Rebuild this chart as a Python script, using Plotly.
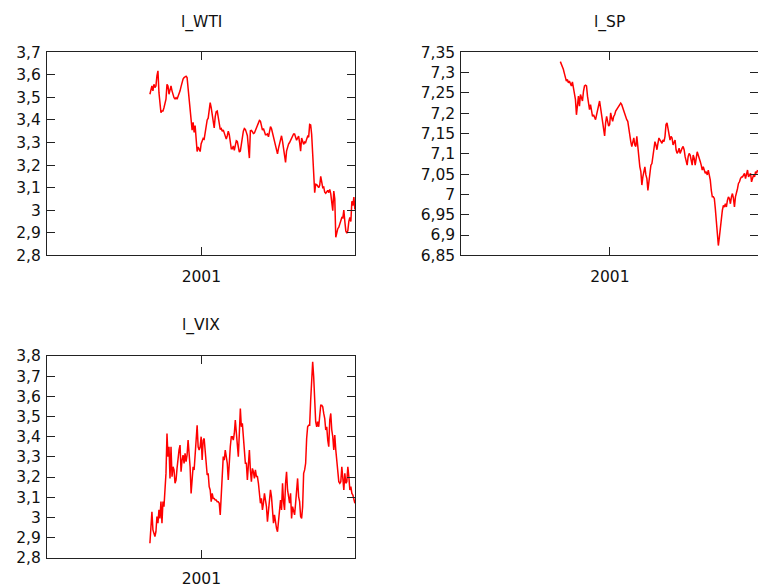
import pandas as pd
import plotly.graph_objects as go

# Log price series, daily, Sept 2000 - Dec 2001
l_WTI = [
    3.514, 3.536, 3.551, 3.529, 3.558, 3.544, 3.551, 3.596, 3.618, 3.521,
    3.462, 3.432, 3.440, 3.440, 3.454, 3.469, 3.492, 3.558, 3.551, 3.514,
    3.529, 3.551, 3.529, 3.509, 3.499, 3.494, 3.499, 3.492, 3.503, 3.516,
    3.529, 3.548, 3.566, 3.581, 3.588, 3.591, 3.594, 3.588, 3.544, 3.499,
    3.447, 3.395, 3.355, 3.390, 3.345, 3.375, 3.328, 3.260, 3.280, 3.265,
    3.260, 3.295, 3.310, 3.318, 3.315, 3.345, 3.375, 3.400, 3.408, 3.460,
    3.477, 3.455, 3.420, 3.375, 3.365, 3.415, 3.437, 3.440, 3.410, 3.370,
    3.358, 3.362, 3.350, 3.356, 3.345, 3.330, 3.315, 3.330, 3.350, 3.335,
    3.305, 3.272, 3.272, 3.285, 3.265, 3.290, 3.308, 3.305, 3.280, 3.258,
    3.262, 3.290, 3.330, 3.350, 3.362, 3.358, 3.345, 3.330, 3.280, 3.231,
    3.352, 3.354, 3.348, 3.340, 3.342, 3.352, 3.360, 3.372, 3.385, 3.398,
    3.395, 3.370, 3.355, 3.362, 3.348, 3.335, 3.335, 3.338, 3.325, 3.345,
    3.370, 3.362, 3.342, 3.322, 3.305, 3.280, 3.262, 3.250, 3.275, 3.298,
    3.320, 3.330, 3.305, 3.272, 3.240, 3.212, 3.262, 3.282, 3.293, 3.300,
    3.310, 3.323, 3.330, 3.338, 3.338, 3.322, 3.310, 3.320, 3.328, 3.300,
    3.262, 3.320, 3.305, 3.292, 3.302, 3.300, 3.315, 3.328, 3.324, 3.380,
    3.378, 3.335, 3.250, 3.150, 3.078, 3.115, 3.113, 3.107, 3.100, 3.110,
    3.150, 3.125, 3.100, 3.102, 3.080, 3.075, 3.082, 3.088, 3.078, 3.092,
    3.072, 3.025, 2.998, 3.085, 3.050, 2.880, 2.905, 2.918, 2.925, 2.938,
    2.953, 2.968, 2.966, 3.000, 2.950, 2.908, 2.898, 2.910, 2.950, 2.968,
    2.950, 3.040, 3.020, 3.058, 3.003,
]

l_SP = [
    7.327, 7.321, 7.312, 7.308, 7.298, 7.288, 7.279, 7.283, 7.275, 7.279,
    7.271, 7.267, 7.277, 7.263, 7.250, 7.234, 7.196, 7.225, 7.242, 7.217,
    7.246, 7.238, 7.230, 7.254, 7.267, 7.269, 7.267, 7.242, 7.217, 7.209,
    7.221, 7.205, 7.192, 7.196, 7.188, 7.184, 7.196, 7.205, 7.217, 7.230,
    7.213, 7.196, 7.180, 7.159, 7.144, 7.176, 7.192, 7.180, 7.168, 7.172,
    7.201, 7.188, 7.180, 7.192, 7.196, 7.205, 7.209, 7.213, 7.219, 7.223,
    7.225, 7.221, 7.213, 7.209, 7.196, 7.192, 7.184, 7.180, 7.159, 7.143,
    7.130, 7.118, 7.134, 7.139, 7.122, 7.118, 7.143, 7.110, 7.085, 7.068,
    7.056, 7.023, 7.043, 7.056, 7.068, 7.048, 7.039, 7.010, 7.031, 7.060,
    7.072, 7.076, 7.093, 7.110, 7.130, 7.122, 7.110, 7.126, 7.139, 7.134,
    7.130, 7.126, 7.134, 7.130, 7.143, 7.172, 7.176, 7.159, 7.151, 7.134,
    7.143, 7.139, 7.122, 7.130, 7.134, 7.110, 7.101, 7.105, 7.114, 7.101,
    7.110, 7.114, 7.118, 7.110, 7.093, 7.085, 7.072, 7.093, 7.101, 7.097,
    7.085, 7.072, 7.097, 7.089, 7.072, 7.093, 7.105, 7.097, 7.085, 7.081,
    7.072, 7.060, 7.068, 7.056, 7.052, 7.056, 7.048, 7.060, 7.048, 7.035,
    7.010, 6.994, 6.994, 6.990, 6.965, 6.936, 6.894, 6.874, 6.894, 6.919,
    6.944, 6.961, 6.973, 6.969, 6.977, 6.969, 6.985, 6.994, 6.990, 6.977,
    6.994, 7.002, 6.990, 6.969, 6.994, 7.010, 7.014, 7.027, 7.031, 7.039,
    7.043, 7.043, 7.048, 7.052, 7.039, 7.048, 7.060, 7.043, 7.048, 7.052,
    7.031, 7.039, 7.048, 7.043, 7.056, 7.052, 7.060,
]

l_VIX = [
    2.872, 2.938, 3.028, 2.938, 2.913, 2.905, 2.929, 3.004, 2.971, 3.037,
    2.995, 3.078, 2.971, 3.078, 3.053, 3.119, 3.218, 3.416, 3.301, 3.350,
    3.193, 3.350, 3.202, 3.251, 3.235, 3.169, 3.185, 3.243, 3.301, 3.334,
    3.358, 3.226, 3.284, 3.309, 3.268, 3.317, 3.276, 3.309, 3.383, 3.317,
    3.251, 3.119, 3.169, 3.251, 3.235, 3.317, 3.383, 3.457, 3.350, 3.334,
    3.350, 3.400, 3.284, 3.383, 3.391, 3.334, 3.251, 3.210, 3.218, 3.152,
    3.136, 3.078, 3.119, 3.094, 3.094, 3.086, 3.086, 3.078, 3.078, 3.070,
    3.012, 3.136, 3.235, 3.301, 3.284, 3.334, 3.301, 3.268, 3.185, 3.301,
    3.350, 3.400, 3.400, 3.383, 3.416, 3.482, 3.416, 3.367, 3.301, 3.416,
    3.540, 3.449, 3.466, 3.400, 3.350, 3.268, 3.268, 3.185, 3.259, 3.334,
    3.235, 3.177, 3.243, 3.226, 3.193, 3.235, 3.202, 3.202, 3.169, 3.103,
    3.070, 3.094, 3.037, 3.070, 3.119, 3.086, 3.053, 2.979, 3.028, 3.103,
    3.136, 3.103, 3.037, 2.971, 3.012, 2.971, 2.946, 2.929, 2.995, 3.037,
    3.086, 3.037, 3.169, 3.078, 3.037, 3.169, 3.226, 3.136, 3.111, 3.070,
    3.119, 2.995, 3.053, 3.020, 3.012, 3.070, 3.136, 3.193, 3.103, 3.078,
    3.004, 2.995, 3.053, 3.218, 3.235, 3.268, 3.391, 3.449, 3.457, 3.457,
    3.581, 3.697, 3.771, 3.697, 3.581, 3.474, 3.449, 3.474, 3.449, 3.532,
    3.556, 3.556, 3.548, 3.515, 3.490, 3.433, 3.449, 3.383, 3.350, 3.482,
    3.515, 3.433, 3.400, 3.334, 3.408, 3.334, 3.268, 3.218, 3.177, 3.169,
    3.177, 3.251, 3.177, 3.136, 3.218, 3.169, 3.177, 3.251, 3.202, 3.136,
    3.152, 3.119, 3.111, 3.086, 3.070,
]

start_date = "2000-09-01"
end_date = "2001-12-31"
x_range = ["2000-01-01", "2002-01-01"]
year_ticks = ["2001-01-01"]
year_labels = ["2001"]

panels = [
    ("l_WTI", l_WTI, [2.8, 3.7], 0.1),
    ("l_SP", l_SP, [6.85, 7.35], 0.05),
    ("l_VIX", l_VIX, [2.8, 3.8], 0.1),
]

W, H = 758, 587
font = dict(family="DejaVu Sans, Verdana, sans-serif", size=15.5, color="#111")

# panel frames in pixels: (left, right, top, bottom)
frames = [
    (47.0, 355.3, 52.3, 255.3),
    (461.3, 758.0, 52.3, 255.3),
    (47.0, 355.3, 356.0, 557.7),
]
title_y = [22.0, 22.0, 325.0]

fig = go.Figure()
layout = dict(
    width=W, height=H,
    margin=dict(l=0, r=0, t=0, b=0, autoexpand=False),
    paper_bgcolor="white", plot_bgcolor="white",
    separators=", ",
    showlegend=False,
    font=font,
    annotations=[],
)

for i, ((name, vals, yr, dt), (l, r, t, b), ty) in enumerate(zip(panels, frames, title_y)):
    k = "" if i == 0 else str(i + 1)
    dates = pd.date_range(start_date, end_date, periods=len(vals))
    fig.add_trace(go.Scatter(
        x=dates, y=vals, mode="lines",
        line=dict(color="#ff0000", width=1.5),
        xaxis="x" + k, yaxis="y" + k, name=name,
    ))
    common = dict(
        showline=True, linecolor="#222", linewidth=1, mirror="ticks",
        ticks="inside", ticklen=8, tickwidth=1, tickcolor="#222",
        showgrid=False, zeroline=False, tickfont=font, automargin=False,
    )
    layout["xaxis" + k] = dict(
        common, type="date", range=x_range,
        tickmode="array", tickvals=year_ticks, ticktext=year_labels,
        domain=[l / W, r / W], anchor="y" + k, ticklabelstandoff=7,
    )
    layout["yaxis" + k] = dict(
        common, range=yr, tick0=yr[0], dtick=dt,
        domain=[1 - b / H, 1 - t / H], anchor="x" + k, ticklabelstandoff=2,
    )
    layout["annotations"].append(dict(
        text=name, xref="paper", yref="paper",
        x=(l + r) / 2 / W, y=1 - ty / H, xanchor="center", yanchor="middle",
        showarrow=False, font=font,
    ))

fig.update_layout(**layout)
fig.write_html("out.html")
